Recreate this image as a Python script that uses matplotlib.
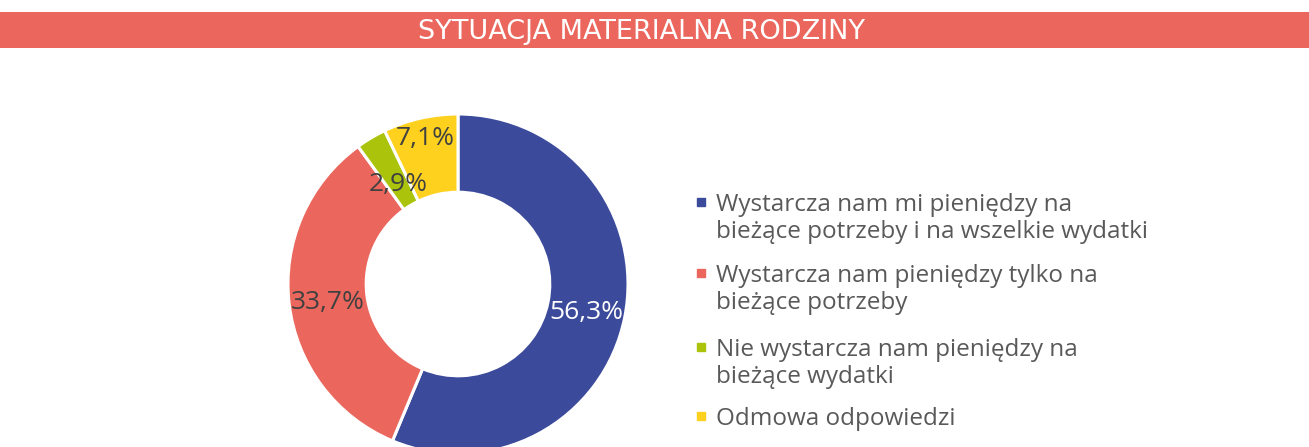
import matplotlib
matplotlib.use("Agg")
import matplotlib.pyplot as plt
from matplotlib.patches import Rectangle
import numpy as np

# Data
categories = [
    "Wystarcza nam mi pieniędzy na\nbieżące potrzeby i na wszelkie wydatki",
    "Wystarcza nam pieniędzy tylko na\nbieżące potrzeby",
    "Nie wystarcza nam pieniędzy na\nbieżące wydatki",
    "Odmowa odpowiedzi",
]
shares = [56.3, 33.7, 2.9, 7.1]
colors = ["#3B4A9B", "#EB675D", "#ABC40B", "#FDD11E"]
label_colors = ["white", "#404040", "#404040", "#404040"]
title = "SYTUACJA MATERIALNA RODZINY"

W, H = 1309, 447
plt.rcParams["font.family"] = ["Open Sans", "DejaVu Sans"]
fig = plt.figure(figsize=(W / 100, H / 100), dpi=100)

# Title banner
banner = fig.add_axes([0, 1 - 48 / H, 1, 36 / H])
banner.set_xlim(0, 1)
banner.set_ylim(0, 1)
banner.axis("off")
banner.add_patch(Rectangle((0, 0), 1, 1, color="#EB665C", transform=banner.transAxes))
banner.text(642 / W, 1 - (39 - 12) / 36, title, color="white", fontsize=19.5,
            family="DejaVu Sans", ha="center", va="baseline", transform=banner.transAxes)

# Donut
cx, cy, r = 458, 284, 170
half = 1.1 * r
ax = fig.add_axes([(cx - half) / W, (H - cy - half) / H, 2 * half / W, 2 * half / H])
wedges, _ = ax.pie(shares, colors=colors, startangle=90, counterclock=False, radius=1,
                   wedgeprops=dict(width=0.46, edgecolor="white", linewidth=2.2))
ax.set_xlim(-1.1, 1.1)
ax.set_ylim(-1.1, 1.1)
ax.set_aspect("equal")
ax.axis("off")

# Value labels in the ring, small slices nudged apart
offsets = {2: (0.04, -0.06), 3: (-0.02, 0.12)}
digit_half = 9.5 / r
for i, (w, v) in enumerate(zip(wedges, shares)):
    mid = np.deg2rad(90 - 360 * (sum(shares[:i]) + v / 2) / 100)
    x, y = 0.77 * np.cos(mid), 0.77 * np.sin(mid)
    dx, dy = offsets.get(i, (0, 0))
    ax.text(x + dx, y + dy - digit_half, f"{v:.1f}%".replace(".", ","),
            color=label_colors[i], fontsize=19, ha="center", va="baseline")

# Legend
baselines = [211, 282, 356, 425]
line_step = 27
for lab, col, yb in zip(categories, colors, baselines):
    fig.patches.append(Rectangle((697 / W, 1 - (yb - 5) / H), 8 / W, 8 / H,
                                 color=col, transform=fig.transFigure))
    for k, line in enumerate(lab.split("\n")):
        fig.text(716 / W, 1 - (yb + k * line_step) / H, line, color="#595959",
                 fontsize=17.5, ha="left", va="baseline")

fig.savefig("out.png", dpi=100)
